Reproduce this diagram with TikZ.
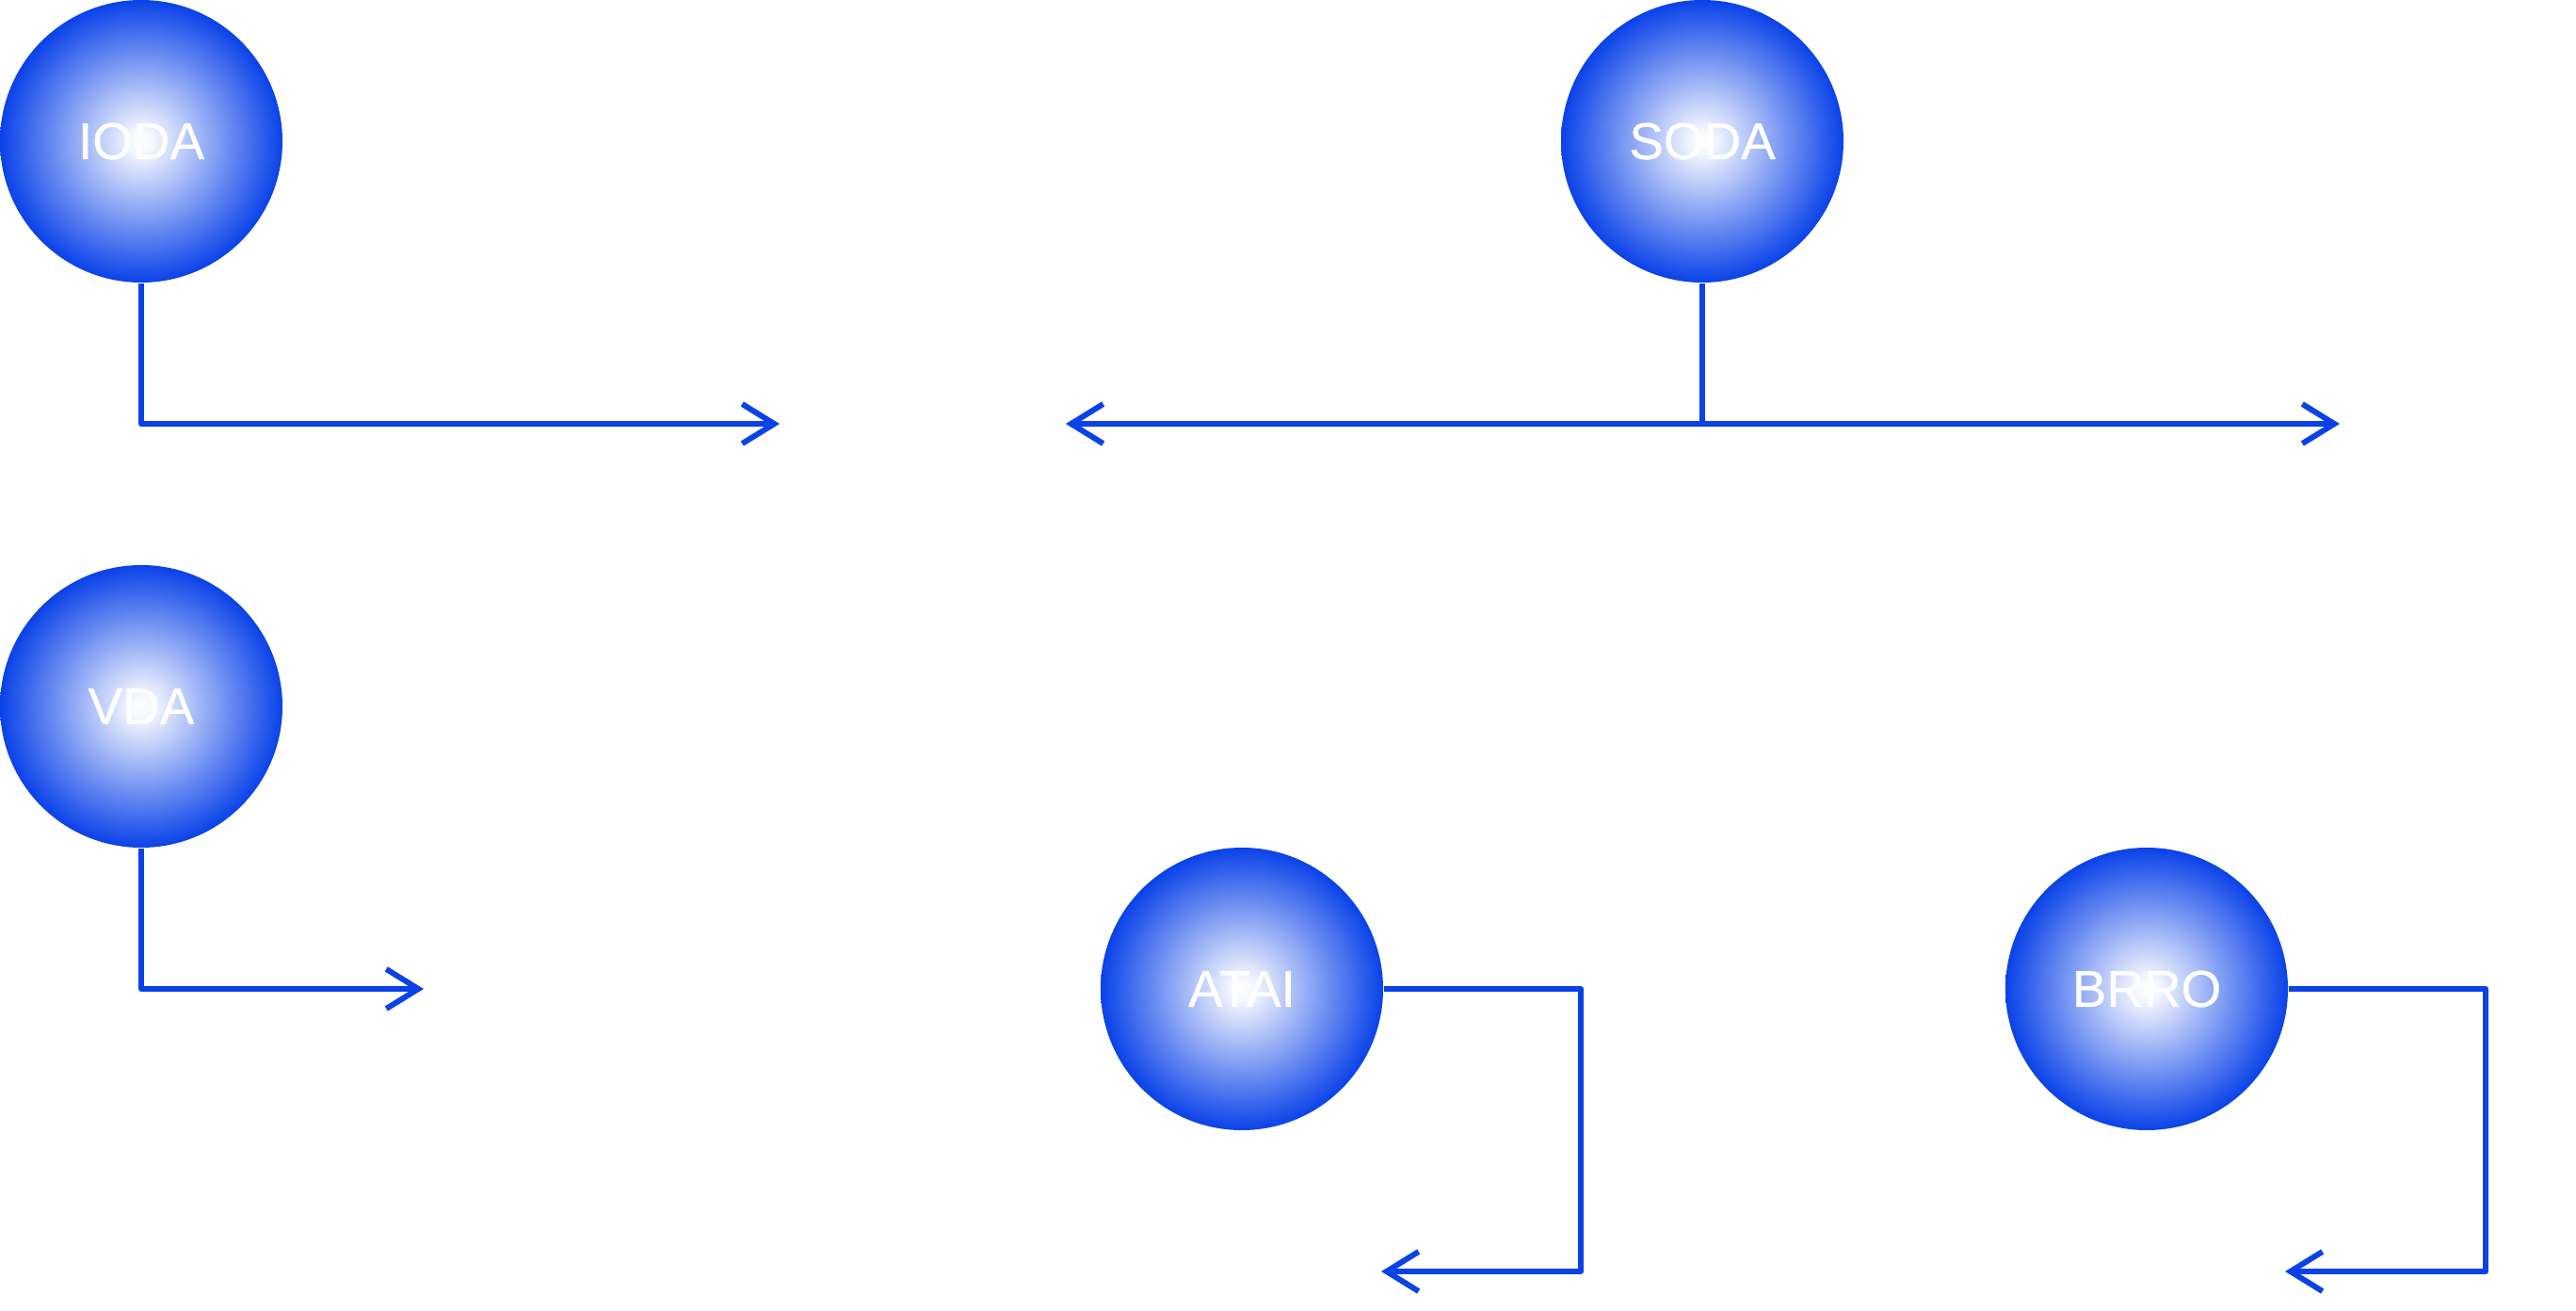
\documentclass[tikz,border=0pt]{standalone}
\usepackage{fontspec}
\setmainfont{Liberation Sans}
\newfontfamily\ballfont{Liberation Sans}[FakeBold=0.5]
\usetikzlibrary{arrows.meta}
\definecolor{myblue}{RGB}{10,66,232}
\pgfdeclareradialshading{ball}{\pgfpoint{0bp}{0bp}}{color(0bp)=(white); color(2bp)=(white!96!myblue); color(25bp)=(myblue); color(50bp)=(myblue)}
\tikzset{
  ballnode/.style={circle, minimum size=3cm, inner sep=0pt, shading=ball, text=white, font=\ballfont\fontsize{15.6}{18}\selectfont},
  conn/.style={draw=myblue, line width=1.7pt, line join=round},
  tip/.style={-{Straight Barb[length=3.4mm,width=4.2mm]}},
}
\begin{document}
\begin{tikzpicture}
\useasboundingbox (0,0) rectangle (27.36,-13.92);
\node[ballnode] (ioda) at (1.5,-1.5) {IODA};
\node[ballnode] (soda) at (18.08,-1.5) {SODA};
\node[ballnode] (vda) at (1.5,-7.5) {VDA};
\node[ballnode] (atai) at (13.19,-10.5) {ATAI};
\node[ballnode] (brro) at (22.8,-10.5) {BRRO};
\coordinate (iodaend) at (8.28,-4.5);
\coordinate (sodaj) at (18.08,-4.5);
\coordinate (sodaL) at (11.32,-4.5);
\coordinate (sodaR) at (24.85,-4.5);
\coordinate (vdaend) at (4.5,-10.5);
\coordinate (ataic) at (16.79,-13.5);
\coordinate (ataiend) at (14.67,-13.5);
\coordinate (brroc) at (26.4,-13.5);
\coordinate (brroend) at (24.27,-13.5);
\draw[conn,tip] (ioda.south) |- (iodaend);
\draw[conn] (soda.south) -- (sodaj);
\draw[conn,tip] (sodaj) -- (sodaL);
\draw[conn,tip] (sodaj) -- (sodaR);
\draw[conn,tip] (vda.south) |- (vdaend);
\draw[conn,tip] (atai.east) -| (ataic) -- (ataiend);
\draw[conn,tip] (brro.east) -| (brroc) -- (brroend);
\end{tikzpicture}
\end{document}
